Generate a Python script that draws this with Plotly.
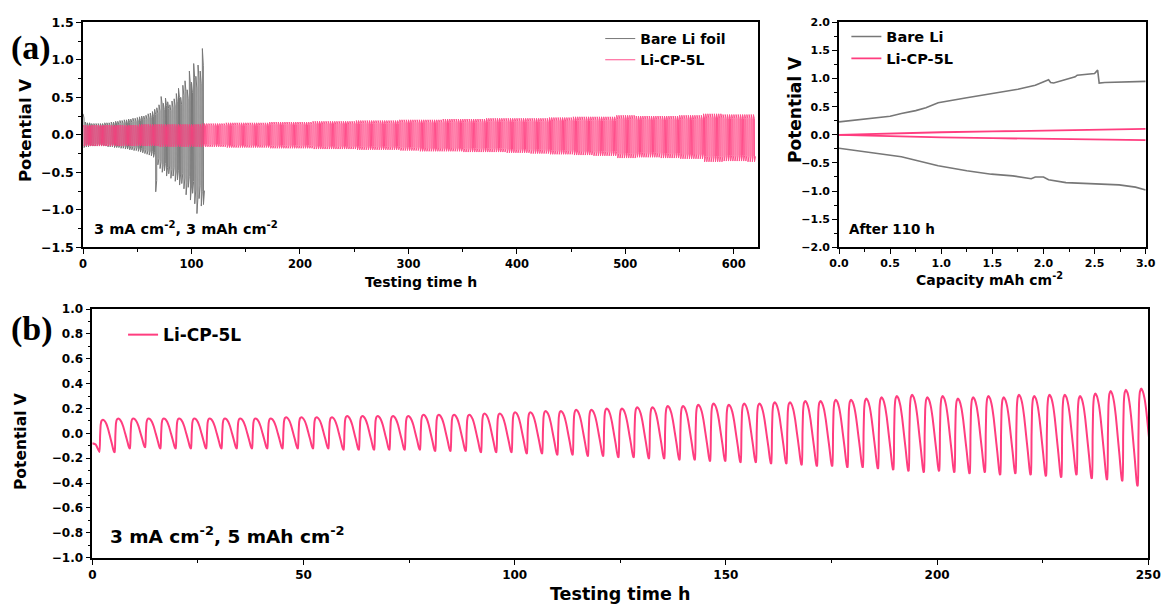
import plotly.graph_objects as go

# ---------------- data ----------------
# (a) long-term cycling, 3 mA cm-2 / 3 mAh cm-2 (one cycle = 2 h)
cycle_a_h = 2.0
bare_upper = [0.28, 0.17, 0.16, 0.16, 0.15, 0.15,
              0.15, 0.15, 0.15, 0.15, 0.16, 0.16, 0.16, 0.17, 0.17, 0.18,
              0.18, 0.19, 0.19, 0.20, 0.20, 0.21, 0.21, 0.22, 0.22, 0.23,
              0.24, 0.25, 0.25, 0.26, 0.28, 0.29, 0.31,
              0.34, 0.36, 0.40, 0.51, 0.42, 0.49, 0.44, 0.40, 0.45, 0.48,
              0.55, 0.62, 0.50, 0.66, 0.72, 0.60, 0.85, 0.70, 0.95, 0.78,
              0.93, 0.85, 1.15]
bare_lower = [-0.17, -0.16, -0.16, -0.15, -0.15, -0.15,
              -0.15, -0.15, -0.15, -0.15, -0.15, -0.16, -0.16, -0.16, -0.17, -0.17,
              -0.17, -0.18, -0.18, -0.19, -0.19, -0.20, -0.20, -0.21, -0.21, -0.22,
              -0.23, -0.24, -0.25, -0.26, -0.27, -0.28, -0.30,
              -0.76, -0.40, -0.45, -0.50, -0.48, -0.55, -0.52, -0.58, -0.55, -0.62,
              -0.60, -0.67, -0.65, -0.72, -0.80, -0.70, -0.87, -0.78, -0.92, -1.05,
              -0.85, -0.95, -0.93]

# Li-CP-5L envelope, sampled every 20 h from 0 to 620 h
cp_env_time = [0, 20, 40, 60, 80, 100, 120, 140, 160, 180, 200, 220, 240, 260, 280, 300,
               320, 340, 360, 380, 400, 420, 440, 460, 480, 500, 520, 540, 560, 580, 600, 620]
cp_upper = [0.13, 0.13, 0.13, 0.14, 0.14, 0.14, 0.15, 0.16, 0.16, 0.17, 0.17, 0.18, 0.18, 0.19,
            0.19, 0.20, 0.20, 0.21, 0.21, 0.22, 0.22, 0.22, 0.23, 0.24, 0.24, 0.26, 0.25, 0.25,
            0.26, 0.28, 0.27, 0.27]
cp_lower = [-0.15, -0.15, -0.15, -0.15, -0.16, -0.16, -0.16, -0.17, -0.17, -0.18, -0.18, -0.19,
            -0.19, -0.20, -0.20, -0.21, -0.22, -0.22, -0.23, -0.23, -0.24, -0.25, -0.26, -0.27,
            -0.28, -0.31, -0.30, -0.31, -0.32, -0.36, -0.35, -0.36]

# (a, right) voltage profiles after 110 h
bare_chg_cap = [0.0, 0.25, 0.5, 0.61, 0.75, 0.85, 0.97, 1.25, 1.5, 1.75, 1.92, 2.05, 2.07,
                2.10, 2.31, 2.33, 2.50, 2.53, 2.545, 2.60, 3.0]
bare_chg_v = [0.23, 0.28, 0.33, 0.38, 0.43, 0.48, 0.57, 0.66, 0.73, 0.81, 0.88, 0.98, 0.93,
              0.92, 1.03, 1.06, 1.09, 1.15, 0.92, 0.93, 0.95]
bare_dis_cap = [0.0, 0.25, 0.61, 0.97, 1.25, 1.49, 1.70, 1.88, 1.92, 2.00, 2.05, 2.22, 2.50,
                2.74, 2.90, 3.0]
bare_dis_v = [-0.24, -0.30, -0.39, -0.55, -0.64, -0.70, -0.73, -0.78, -0.75, -0.75, -0.80,
              -0.85, -0.87, -0.89, -0.93, -0.98]
cp_chg_cap = [0.0, 0.5, 1.0, 1.5, 2.0, 2.5, 3.0]
cp_chg_v = [0.00, 0.025, 0.045, 0.060, 0.075, 0.090, 0.105]
cp_dis_cap = [0.0, 0.5, 1.0, 1.5, 2.0, 2.5, 3.0]
cp_dis_v = [0.00, -0.025, -0.045, -0.060, -0.075, -0.085, -0.095]

# (b) 3 mA cm-2 / 5 mAh cm-2, per-cycle extremes
cycle_b_h = 3.615
b_first_trough_h = 1.7
b_peak = [0.11, 0.12, 0.12, 0.12, 0.12, 0.12, 0.12, 0.12, 0.12, 0.12,
          0.12, 0.12, 0.13, 0.13, 0.13, 0.13, 0.14, 0.14, 0.14, 0.14,
          0.14, 0.15, 0.15, 0.15, 0.15, 0.16, 0.16, 0.17, 0.17, 0.18,
          0.18, 0.19, 0.19, 0.20, 0.20, 0.21, 0.21, 0.22, 0.22, 0.23,
          0.24, 0.23, 0.24, 0.24, 0.25, 0.25, 0.26, 0.26, 0.27, 0.27,
          0.28, 0.29, 0.30, 0.31, 0.29, 0.30, 0.28, 0.29, 0.30, 0.29,
          0.31, 0.30, 0.31, 0.31, 0.30, 0.32, 0.34, 0.35, 0.36]
b_trough = [-0.15, -0.12, -0.11, -0.12, -0.12, -0.12, -0.12, -0.12, -0.12, -0.12,
            -0.12, -0.12, -0.12, -0.12, -0.12, -0.13, -0.13, -0.13, -0.13, -0.13,
            -0.13, -0.14, -0.14, -0.14, -0.15, -0.15, -0.15, -0.16, -0.16, -0.17,
            -0.17, -0.18, -0.18, -0.19, -0.19, -0.20, -0.20, -0.21, -0.21, -0.22,
            -0.22, -0.23, -0.23, -0.24, -0.24, -0.25, -0.26, -0.26, -0.27, -0.27,
            -0.28, -0.29, -0.30, -0.31, -0.30, -0.31, -0.32, -0.31, -0.33, -0.32,
            -0.33, -0.34, -0.35, -0.33, -0.36, -0.37, -0.38, -0.42, -0.30]

PINK = "#FF3D7F"
GRAY = "#777777"
FONT = "DejaVu Sans"


def square_cycles(uppers, lowers, period):
    """Charge/discharge trace: a plateau at the upper value, then at the lower value."""
    xs, ys = [], []
    for i, (u, l) in enumerate(zip(uppers, lowers)):
        t0 = i * period
        h = period / 2
        xs += [t0 + 0.05 * h, t0 + 0.95 * h, t0 + 1.05 * h, t0 + 1.95 * h]
        ys += [u, 0.8 * u, l, 0.8 * l]
    return xs, ys


# bare Li foil trace
bare_x, bare_y = square_cycles(bare_upper, bare_lower, cycle_a_h)

# Li-CP-5L trace: each cycle takes the envelope sample nearest in time
n_cp = int(round(cp_env_time[-1] / cycle_a_h))
cp_u_cycles, cp_l_cycles = [], []
for i in range(n_cp):
    k = min(int(round(i * cycle_a_h / 20.0)), len(cp_upper) - 1)
    cp_u_cycles.append(cp_upper[k])
    cp_l_cycles.append(cp_lower[k])
cp_x, cp_y = square_cycles(cp_u_cycles, cp_l_cycles, cycle_a_h)

# (b) waveform: near-vertical rise, rounded top, curved decline into a short trough
shape_f = [0.00, 0.04, 0.08, 0.14, 0.22, 0.32, 0.44, 0.56, 0.68, 0.80, 0.90, 0.96]
shape_wp = [0.0, 0.5, 0.85, 0.97, 1.0, 0.97, 0.88, 0.72, 0.50, 0.28, 0.08, 0.0]
b_x = [0.0, 0.8]
b_y = [-0.08, -0.09]
for i, (p, tr) in enumerate(zip(b_peak, b_trough)):
    t0 = b_first_trough_h + i * cycle_b_h
    prev_tr = b_trough[i - 1] if i > 0 else tr
    for f, wp in zip(shape_f, shape_wp):
        trough_v = prev_tr if f < 0.2 else tr
        b_x.append(t0 + f * cycle_b_h)
        b_y.append(wp * p + (1 - wp) * trough_v)

fig = go.Figure()

fig.add_trace(go.Scatter(x=bare_x, y=bare_y, mode="lines", name="<b>Bare Li foil</b>",
                         line=dict(color=GRAY, width=1), xaxis="x", yaxis="y",
                         legend="legend"))
fig.add_trace(go.Scatter(x=cp_x, y=cp_y, mode="lines", name="<b>Li-CP-5L</b>",
                         line=dict(color=PINK, width=1), opacity=0.9,
                         xaxis="x", yaxis="y", legend="legend"))

fig.add_trace(go.Scatter(x=bare_chg_cap, y=bare_chg_v, mode="lines", name="<b>Bare Li</b>",
                         line=dict(color=GRAY, width=1.6), xaxis="x2", yaxis="y2",
                         legend="legend2"))
fig.add_trace(go.Scatter(x=cp_chg_cap, y=cp_chg_v, mode="lines", name="<b>Li-CP-5L</b>",
                         line=dict(color=PINK, width=1.8), xaxis="x2", yaxis="y2",
                         legend="legend2"))
fig.add_trace(go.Scatter(x=bare_dis_cap, y=bare_dis_v, mode="lines", showlegend=False,
                         line=dict(color=GRAY, width=1.6), xaxis="x2", yaxis="y2"))
fig.add_trace(go.Scatter(x=cp_dis_cap, y=cp_dis_v, mode="lines", showlegend=False,
                         line=dict(color=PINK, width=1.8), xaxis="x2", yaxis="y2"))

fig.add_trace(go.Scatter(x=b_x, y=b_y, mode="lines", name="<b>Li-CP-5L</b>",
                         line=dict(color=PINK, width=2, shape="spline", smoothing=0.4),
                         xaxis="x3", yaxis="y3", legend="legend3"))

W, H = 1161, 604


def dom(px0, px1):
    return [px0 / W, px1 / W]


def vdom(py_top, py_bot):
    return [1 - py_bot / H, 1 - py_top / H]


def axis(domain, rng, dtick, minor_dtick, anchor, tsize, fmt):
    return dict(domain=domain, range=rng, dtick=dtick, tick0=rng[0],
                showline=True, linecolor="black", linewidth=1.6, mirror=True,
                ticks="outside", ticklen=5, tickwidth=1.3, tickcolor="black",
                minor=dict(dtick=minor_dtick, ticks="outside", ticklen=3, tickwidth=1,
                           tickcolor="black"),
                showgrid=False, zeroline=False, automargin=False,
                tickfont=dict(family=FONT, size=tsize, color="black"),
                tickprefix="<b>", ticksuffix="</b>", tickformat=fmt,
                anchor=anchor)


legend_common = dict(xanchor="left", yanchor="top", bgcolor="rgba(0,0,0,0)",
                     tracegroupgap=0, itemwidth=30)

fig.update_layout(
    width=W, height=H,
    margin=dict(l=0, r=0, t=0, b=0),
    paper_bgcolor="white", plot_bgcolor="white",
    font=dict(family=FONT),
    xaxis=axis(dom(83, 757.7), [0, 622], 100, 50, "y", 11.5, "d"),
    yaxis=axis(vdom(22.3, 247.3), [-1.5, 1.5], 0.5, 0.25, "x", 12.5, ".1f"),
    xaxis2=axis(dom(839, 1145.7), [0, 3], 0.5, 0.25, "y2", 11, ".1f"),
    yaxis2=axis(vdom(22.3, 247.3), [-2, 2], 0.5, 0.25, "x2", 11, ".1f"),
    xaxis3=axis(dom(92.3, 1148.3), [0, 250], 50, 25, "y3", 12, "d"),
    yaxis3=axis(vdom(309, 557.7), [-1, 1], 0.2, 0.1, "x3", 12, ".1f"),
    legend=dict(x=0.517, y=0.962, font=dict(family=FONT, size=14, color="black"),
                **legend_common),
    legend2=dict(x=0.729, y=0.966, font=dict(family=FONT, size=14.5, color="black"),
                 **legend_common),
    legend3=dict(x=0.106, y=0.475, font=dict(family=FONT, size=17, color="black"),
                 **legend_common),
)

annos = [
    # axis titles
    dict(text="<b>Testing time h</b>", x=421 / W, y=1 - 282 / H, xanchor="center",
         font=dict(family=FONT, size=14, color="black")),
    dict(text="<b>Potential V</b>", x=25 / W, y=1 - 131 / H, xanchor="center",
         textangle=-90, font=dict(family=FONT, size=16.5, color="black")),
    dict(text="<b>Capacity mAh cm<sup>-2</sup></b>", x=989 / W, y=1 - 279 / H,
         xanchor="center", font=dict(family=FONT, size=14, color="black")),
    dict(text="<b>Potential V</b>", x=795 / W, y=1 - 110 / H, xanchor="center",
         textangle=-90, font=dict(family=FONT, size=17, color="black")),
    dict(text="<b>Testing time h</b>", x=620 / W, y=1 - 594 / H, xanchor="center",
         font=dict(family=FONT, size=17.5, color="black")),
    dict(text="<b>Potential V</b>", x=21 / W, y=1 - 442 / H, xanchor="center",
         textangle=-90, font=dict(family=FONT, size=15.5, color="black")),
    # condition labels
    dict(text="<b>3 mA cm<sup>-2</sup>, 3 mAh cm<sup>-2</sup></b>", x=92 / W, y=1 - 228 / H,
         font=dict(family=FONT, size=14.5, color="black")),
    dict(text="<b>After 110 h</b>", x=847 / W, y=1 - 229 / H,
         font=dict(family=FONT, size=13.5, color="black")),
    dict(text="<b>3 mA cm<sup>-2</sup>, 5 mAh cm<sup>-2</sup></b>", x=108 / W, y=1 - 535 / H,
         font=dict(family=FONT, size=18.5, color="black")),
    # panel letters
    dict(text="<b>(a)</b>", x=9 / W, y=1 - 48 / H,
         font=dict(family="Liberation Serif", size=34, color="black")),
    dict(text="<b>(b)</b>", x=9 / W, y=1 - 329 / H,
         font=dict(family="Liberation Serif", size=34, color="black")),
]
for a in annos:
    a.setdefault("xanchor", "left")
    fig.add_annotation(xref="paper", yref="paper", yanchor="middle",
                       showarrow=False, **a)

fig.write_html("out.html")
